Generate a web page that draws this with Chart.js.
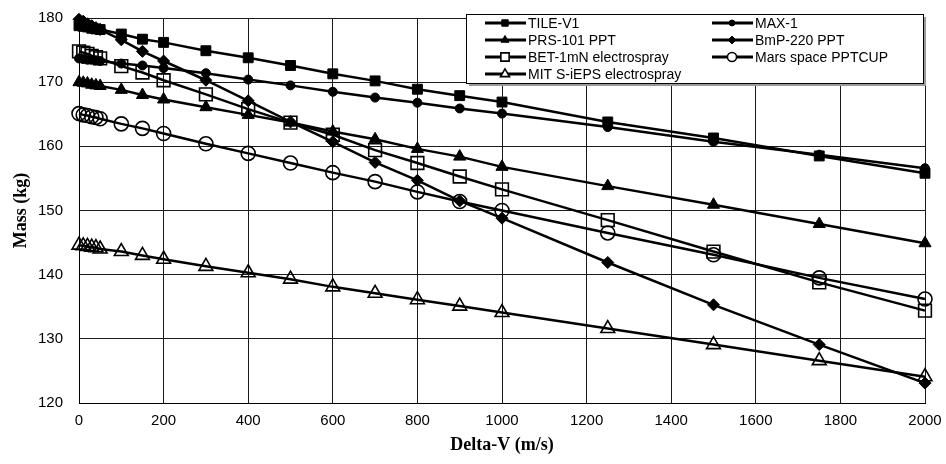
<!DOCTYPE html>
<html>
<head>
<meta charset="utf-8">
<script src="https://cdn.jsdelivr.net/npm/chart.js@4.4.1/dist/chart.umd.min.js"></script>
<style>
  body { margin: 0; background: #fff; }
</style>
</head>
<body>
<canvas id="massChart" width="946" height="464"></canvas>
<script>
// delta-v steps (m/s)
const deltaV = [0, 10, 20, 30, 40, 50, 100, 150, 200, 300, 400, 500, 600, 700, 800, 900, 1000, 1250, 1500, 1750, 2000];

// mass (kg) per thruster
const tileV1 = [178.8, 178.7, 178.6, 178.4, 178.3, 178.2, 177.5, 176.7, 176.2, 174.9, 173.8, 172.6, 171.3, 170.2, 168.9, 167.9, 166.9, 163.8, 161.3, 158.5, 155.8];
const max1 = [173.7, 173.6, 173.5, 173.5, 173.4, 173.3, 172.9, 172.6, 172.2, 171.4, 170.4, 169.5, 168.5, 167.6, 166.8, 165.9, 165.1, 163.0, 160.7, 158.7, 156.6];
const prs101 = [170.0, 169.9, 169.8, 169.6, 169.5, 169.4, 168.8, 168.0, 167.3, 166.1, 164.9, 163.7, 162.3, 161.1, 159.6, 158.4, 156.8, 153.8, 150.9, 147.9, 144.9];
const bmp220 = [179.8, 179.5, 179.1, 178.8, 178.5, 178.2, 176.6, 174.8, 173.3, 170.3, 167.1, 163.8, 160.7, 157.5, 154.7, 151.5, 148.8, 141.9, 135.3, 129.1, 123.1];
const bet1mN = [174.8, 174.6, 174.4, 174.1, 173.9, 173.7, 172.5, 171.5, 170.3, 168.1, 165.8, 163.7, 161.8, 159.4, 157.4, 155.3, 153.3, 148.5, 143.6, 138.8, 134.4];
const marsPptcup = [165.1, 164.9, 164.8, 164.6, 164.5, 164.3, 163.5, 162.8, 162.0, 160.4, 158.9, 157.4, 155.9, 154.5, 152.9, 151.4, 150.0, 146.5, 143.1, 139.5, 136.2];
const mitSieps = [144.6, 144.5, 144.4, 144.3, 144.2, 144.0, 143.6, 143.0, 142.4, 141.3, 140.3, 139.3, 138.1, 137.1, 136.1, 135.1, 134.1, 131.6, 129.1, 126.6, 124.1];

const xTicks = [0, 200, 400, 600, 800, 1000, 1200, 1400, 1600, 1800, 2000];
const yTicks = [120, 130, 140, 150, 160, 170, 180];

const toPoints = (values) => values.map((v, i) => ({ x: deltaV[i], y: v }));

const makeSeries = (label, values, style, radius, filled) => ({
  label: label,
  data: toPoints(values),
  borderColor: '#000',
  borderWidth: 2.5,
  tension: 0,
  clip: false,
  pointStyle: style,
  pointRadius: radius,
  pointHoverRadius: radius,
  pointBorderColor: '#000',
  pointBorderWidth: filled ? 1 : 1.6,
  pointBackgroundColor: filled ? '#000' : 'rgba(0,0,0,0)',
});

// two-column legend box drawn inside the plot, like the original
const boxLegend = {
  id: 'boxLegend',
  afterDraw(chart) {
    const ctx = chart.ctx;
    const left = 466, top = 14, right = 923, bottom = 83;
    ctx.save();
    ctx.fillStyle = '#9a9a9a';
    ctx.fillRect(left + 3, top + 3, right - left, bottom - top);
    ctx.fillStyle = '#fff';
    ctx.fillRect(left, top, right - left, bottom - top);
    ctx.strokeStyle = '#000';
    ctx.lineWidth = 1;
    ctx.strokeRect(left + 0.5, top + 0.5, right - left, bottom - top);

    const cols = [485, 712];
    const rows = [23, 40, 57, 74];
    ctx.font = '14px "Liberation Sans", Arial, sans-serif';
    ctx.textBaseline = 'middle';
    ctx.textAlign = 'left';
    chart.data.datasets.forEach((ds, i) => {
      const x = cols[i % 2];
      const y = rows[Math.floor(i / 2)];
      ctx.strokeStyle = '#000';
      ctx.lineWidth = 3;
      ctx.beginPath();
      ctx.moveTo(x, y);
      ctx.lineTo(x + 41, y);
      ctx.stroke();
      const opts = {
        pointStyle: ds.pointStyle,
        radius: ds.pointRadius * 0.65,
        rotation: 0,
        borderWidth: ds.pointBorderWidth,
      };
      ctx.fillStyle = ds.pointBackgroundColor === '#000' ? '#000' : '#fff';
      ctx.strokeStyle = '#000';
      ctx.lineWidth = ds.pointBorderWidth;
      Chart.helpers.drawPoint(ctx, opts, x + 20, y);
      ctx.fillStyle = '#000';
      ctx.fillText(ds.label, x + 43, y + 1);
    });
    ctx.restore();
  }
};

const ctx = document.getElementById('massChart').getContext('2d');
new Chart(ctx, {
  type: 'line',
  data: {
    datasets: [
      makeSeries('TILE-V1', tileV1, 'rect', 7, true),
      makeSeries('MAX-1', max1, 'circle', 4.5, true),
      makeSeries('PRS-101 PPT', prs101, 'triangle', 7, true),
      makeSeries('BmP-220 PPT', bmp220, 'rectRot', 6, true),
      makeSeries('BET-1mN electrospray', bet1mN, 'rect', 9, false),
      makeSeries('Mars space PPTCUP', marsPptcup, 'circle', 7, false),
      makeSeries('MIT S-iEPS electrospray', mitSieps, 'triangle', 8, false),
    ],
  },
  options: {
    responsive: false,
    animation: false,
    layout: { padding: { top: 18, right: 21, left: 0, bottom: 0 } },
    plugins: {
      legend: { display: false },
      tooltip: { enabled: false },
    },
    scales: {
      x: {
        type: 'linear',
        min: 0,
        max: 2000,
        afterBuildTicks: (scale) => { scale.ticks = xTicks.map(v => ({ value: v })); },
        afterFit: (scale) => {
          scale.height = 61;
          scale.paddingLeft = 0;
          scale.paddingRight = 0;
        },
        grid: { color: '#1a1a1a', lineWidth: 1, drawTicks: false },
        border: { color: '#000', width: 1 },
        ticks: {
          color: '#000',
          padding: 9,
          maxRotation: 0,
          callback: (value) => String(value),
          font: { family: '"Liberation Sans", Arial, sans-serif', size: 15 },
        },
        title: {
          display: true,
          text: 'Delta-V (m/s)',
          color: '#000',
          padding: { top: 0, bottom: 8 },
          font: { family: '"Liberation Serif", "Times New Roman", serif', size: 18, weight: 'bold' },
        },
      },
      y: {
        min: 120,
        max: 180,
        afterBuildTicks: (scale) => { scale.ticks = yTicks.map(v => ({ value: v })); },
        afterFit: (scale) => {
          scale.width = 79;
          scale.paddingTop = 0;
          scale.paddingBottom = 0;
        },
        grid: { color: '#1a1a1a', lineWidth: 1, drawTicks: false },
        border: { color: '#000', width: 1 },
        ticks: {
          color: '#000',
          padding: 16,
          callback: (value) => String(value),
          font: { family: '"Liberation Sans", Arial, sans-serif', size: 15 },
        },
        title: {
          display: true,
          text: 'Mass (kg)',
          color: '#000',
          padding: { top: 11, bottom: 0 },
          font: { family: '"Liberation Serif", "Times New Roman", serif', size: 18, weight: 'bold' },
        },
      },
    },
  },
  plugins: [boxLegend],
});
</script>
</body>
</html>
